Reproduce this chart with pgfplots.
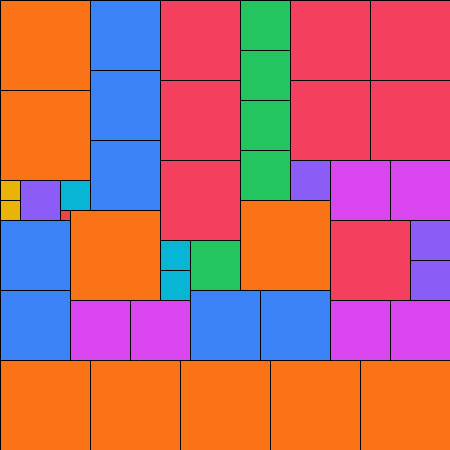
\documentclass[border=0pt]{standalone}
\usepackage{pgfplots}
\pgfplotsset{compat=1.18}
\definecolor{cOrange}{HTML}{F97316}
\definecolor{cBlue}{HTML}{3B82F6}
\definecolor{cRose}{HTML}{F43F5E}
\definecolor{cGreen}{HTML}{22C55E}
\definecolor{cPurple}{HTML}{8B5CF6}
\definecolor{cMagenta}{HTML}{D946EF}
\definecolor{cCyan}{HTML}{06B6D4}
\definecolor{cYellow}{HTML}{EAB308}
\definecolor{cRed}{HTML}{EF4444}
% one tile: colour, x0, y0, x1, y1 (pixels, y downwards)
\newcommand\tile[5]{\addplot[fill=#1, draw=black, line width=1bp, forget plot]
  coordinates {(#2,#3) (#4,#3) (#4,#5) (#2,#5)} --cycle;}
\begin{document}
\begin{tikzpicture}
\begin{axis}[
    scale only axis,
    width=450bp, height=450bp,
    xmin=0, xmax=450, ymin=0, ymax=450,
    y dir=reverse,
    hide axis,
    no markers,
]
\tile{cOrange}{0}{0}{90}{90}
\tile{cOrange}{0}{90}{90}{180}
\tile{cBlue}{90}{0}{160}{70}
\tile{cBlue}{90}{70}{160}{140}
\tile{cBlue}{90}{140}{160}{210}
\tile{cRose}{160}{0}{240}{80}
\tile{cRose}{160}{80}{240}{160}
\tile{cRose}{160}{160}{240}{240}
\tile{cGreen}{240}{0}{290}{50}
\tile{cGreen}{240}{50}{290}{100}
\tile{cGreen}{240}{100}{290}{150}
\tile{cGreen}{240}{150}{290}{200}
\tile{cRose}{290}{0}{370}{80}
\tile{cRose}{370}{0}{450}{80}
\tile{cRose}{290}{80}{370}{160}
\tile{cRose}{370}{80}{450}{160}
\tile{cPurple}{290}{160}{330}{200}
\tile{cMagenta}{330}{160}{390}{220}
\tile{cMagenta}{390}{160}{450}{220}
\tile{cYellow}{0}{180}{20}{200}
\tile{cYellow}{0}{200}{20}{220}
\tile{cPurple}{20}{180}{60}{220}
\tile{cCyan}{60}{180}{90}{210}
\tile{cRed}{60}{210}{70}{220}
\tile{cBlue}{0}{220}{70}{290}
\tile{cBlue}{0}{290}{70}{360}
\tile{cOrange}{70}{210}{160}{300}
\tile{cCyan}{160}{240}{190}{270}
\tile{cCyan}{160}{270}{190}{300}
\tile{cGreen}{190}{240}{240}{290}
\tile{cOrange}{240}{200}{330}{290}
\tile{cRose}{330}{220}{410}{300}
\tile{cPurple}{410}{220}{450}{260}
\tile{cPurple}{410}{260}{450}{300}
\tile{cMagenta}{70}{300}{130}{360}
\tile{cMagenta}{130}{300}{190}{360}
\tile{cBlue}{190}{290}{260}{360}
\tile{cBlue}{260}{290}{330}{360}
\tile{cMagenta}{330}{300}{390}{360}
\tile{cMagenta}{390}{300}{450}{360}
\tile{cOrange}{0}{360}{90}{450}
\tile{cOrange}{90}{360}{180}{450}
\tile{cOrange}{180}{360}{270}{450}
\tile{cOrange}{270}{360}{360}{450}
\tile{cOrange}{360}{360}{450}{450}
\end{axis}
\pgfresetboundingbox
\useasboundingbox (0,0) rectangle (450bp,450bp);
\end{tikzpicture}
\end{document}
